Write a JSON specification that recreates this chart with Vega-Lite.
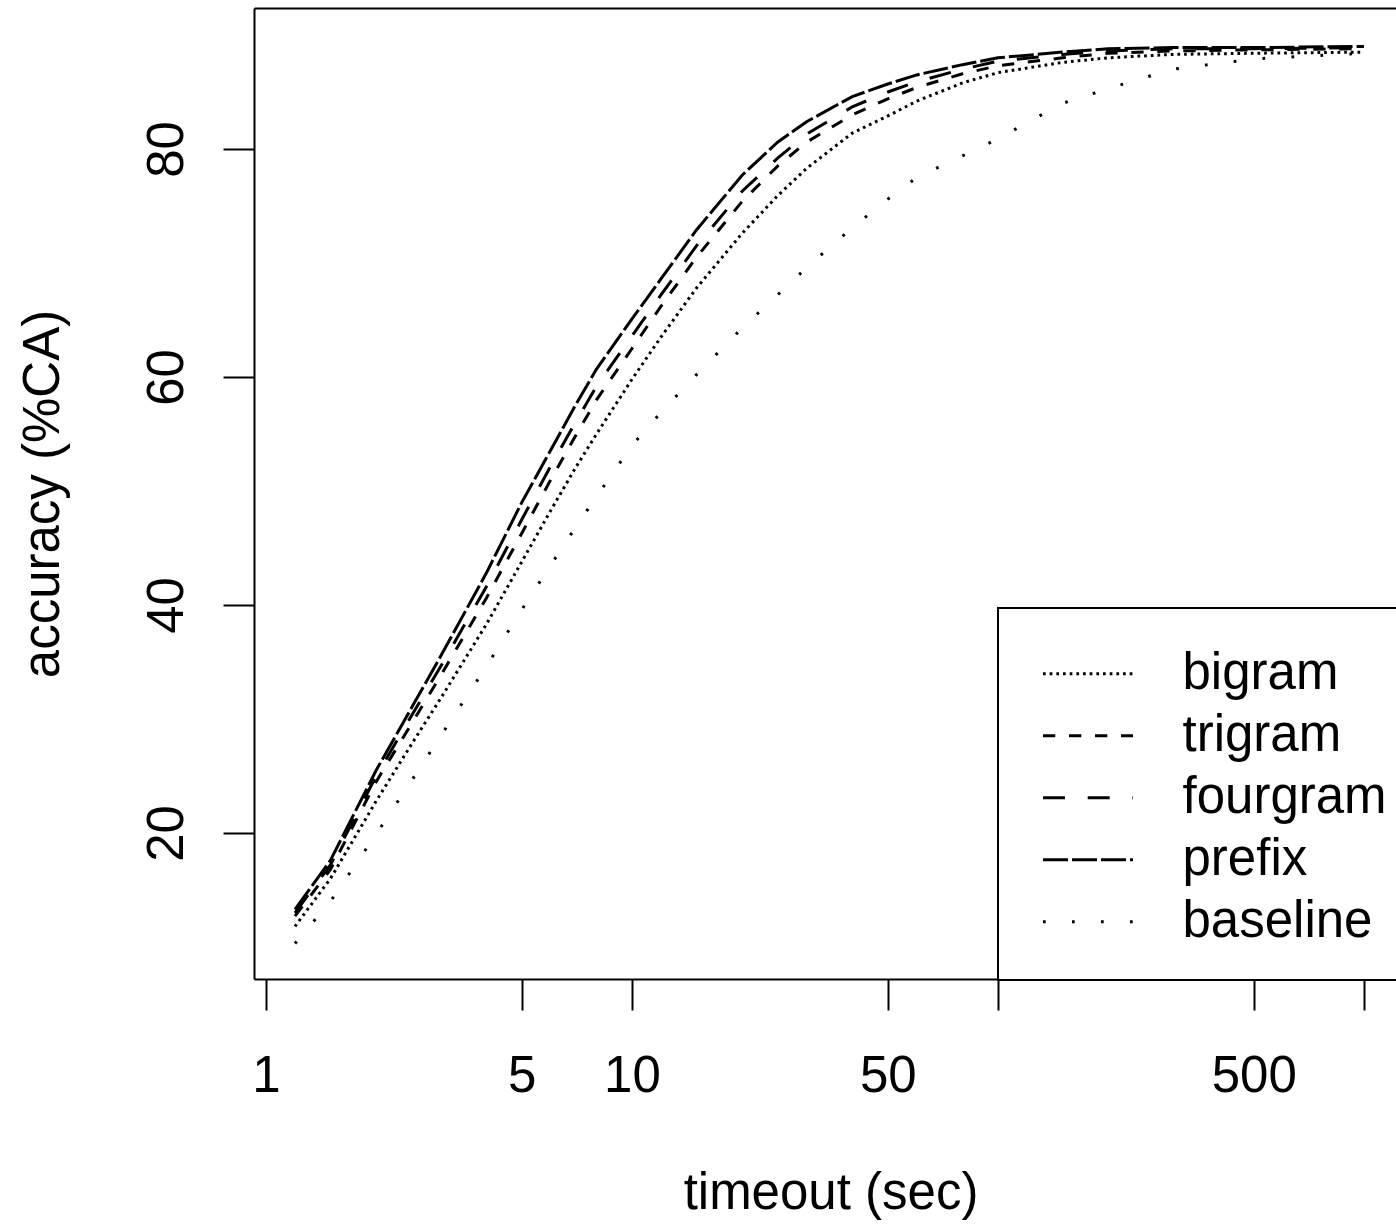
{
  "$schema": "https://vega.github.io/schema/vega-lite/v6.json",
  "width": 1142,
  "height": 971,
  "autosize": {"type": "none"},
  "padding": {"left": 254, "top": 8, "right": 0, "bottom": 248},
  "background": "white",
  "config": {
    "view": {"stroke": null},
    "font": "Liberation Sans",
    "axis": {
      "grid": false,
      "domainColor": "black",
      "domainWidth": 2,
      "tickColor": "black",
      "tickWidth": 2,
      "tickSize": 31,
      "labelFont": "Liberation Sans",
      "labelFontSize": 51,
      "labelColor": "black",
      "labelFlush": false,
      "labelOverlap": false,
      "titleFont": "Liberation Sans",
      "titleFontSize": 51,
      "titleFontWeight": "normal",
      "titleColor": "black"
    },
    "legend": {
      "orient": "none",
      "legendX": 744,
      "legendY": 600,
      "direction": "vertical",
      "strokeColor": "black",
      "strokeWidth": 2,
      "fillColor": "white",
      "padding": 27,
      "symbolType": "stroke",
      "symbolSize": 8100,
      "symbolStrokeWidth": 3,
      "symbolStrokeColor": "black",
      "symbolOffset": 16.5,
      "labelOffset": 48,
      "labelFont": "Liberation Sans",
      "labelFontSize": 51,
      "labelColor": "black",
      "labelLimit": 0,
      "clipHeight": 61.3,
      "rowPadding": 0,
      "titleFontSize": 1,
      "titlePadding": 7
    }
  },
  "data": {
    "values": [
      {"m": "prefix", "t": 1.2, "a": 13.3}, {"m": "prefix", "t": 1.5, "a": 17.6}, {"m": "prefix", "t": 2, "a": 25.5}, {"m": "prefix", "t": 2.5, "a": 31.0}, {"m": "prefix", "t": 3, "a": 35.5}, {"m": "prefix", "t": 4, "a": 42.8}, {"m": "prefix", "t": 5, "a": 49.0}, {"m": "prefix", "t": 6, "a": 53.6}, {"m": "prefix", "t": 7, "a": 57.5}, {"m": "prefix", "t": 8, "a": 60.7}, {"m": "prefix", "t": 10, "a": 65.1}, {"m": "prefix", "t": 12, "a": 68.6}, {"m": "prefix", "t": 15, "a": 72.9}, {"m": "prefix", "t": 20, "a": 77.7}, {"m": "prefix", "t": 25, "a": 80.6}, {"m": "prefix", "t": 30, "a": 82.4}, {"m": "prefix", "t": 40, "a": 84.6}, {"m": "prefix", "t": 50, "a": 85.7}, {"m": "prefix", "t": 60, "a": 86.5}, {"m": "prefix", "t": 80, "a": 87.4}, {"m": "prefix", "t": 100, "a": 88.0}, {"m": "prefix", "t": 150, "a": 88.5}, {"m": "prefix", "t": 200, "a": 88.8}, {"m": "prefix", "t": 300, "a": 88.9}, {"m": "prefix", "t": 500, "a": 88.9}, {"m": "prefix", "t": 1000, "a": 89.0},
      {"m": "fourgram", "t": 1.2, "a": 13.0}, {"m": "fourgram", "t": 1.5, "a": 17.2}, {"m": "fourgram", "t": 2, "a": 25.0}, {"m": "fourgram", "t": 2.5, "a": 30.3}, {"m": "fourgram", "t": 3, "a": 34.6}, {"m": "fourgram", "t": 4, "a": 41.6}, {"m": "fourgram", "t": 5, "a": 47.5}, {"m": "fourgram", "t": 6, "a": 52.2}, {"m": "fourgram", "t": 7, "a": 56.0}, {"m": "fourgram", "t": 8, "a": 59.2}, {"m": "fourgram", "t": 10, "a": 63.6}, {"m": "fourgram", "t": 12, "a": 67.2}, {"m": "fourgram", "t": 15, "a": 71.5}, {"m": "fourgram", "t": 20, "a": 76.3}, {"m": "fourgram", "t": 25, "a": 79.2}, {"m": "fourgram", "t": 30, "a": 81.3}, {"m": "fourgram", "t": 40, "a": 83.7}, {"m": "fourgram", "t": 50, "a": 85.0}, {"m": "fourgram", "t": 60, "a": 85.9}, {"m": "fourgram", "t": 80, "a": 87.0}, {"m": "fourgram", "t": 100, "a": 87.7}, {"m": "fourgram", "t": 150, "a": 88.3}, {"m": "fourgram", "t": 200, "a": 88.6}, {"m": "fourgram", "t": 300, "a": 88.8}, {"m": "fourgram", "t": 500, "a": 88.8}, {"m": "fourgram", "t": 1000, "a": 88.9},
      {"m": "trigram", "t": 1.2, "a": 12.7}, {"m": "trigram", "t": 1.5, "a": 16.8}, {"m": "trigram", "t": 2, "a": 24.5}, {"m": "trigram", "t": 2.5, "a": 29.6}, {"m": "trigram", "t": 3, "a": 33.8}, {"m": "trigram", "t": 4, "a": 40.6}, {"m": "trigram", "t": 5, "a": 46.3}, {"m": "trigram", "t": 6, "a": 51.0}, {"m": "trigram", "t": 7, "a": 54.8}, {"m": "trigram", "t": 8, "a": 58.0}, {"m": "trigram", "t": 10, "a": 62.5}, {"m": "trigram", "t": 12, "a": 66.2}, {"m": "trigram", "t": 15, "a": 70.5}, {"m": "trigram", "t": 20, "a": 75.4}, {"m": "trigram", "t": 25, "a": 78.5}, {"m": "trigram", "t": 30, "a": 80.6}, {"m": "trigram", "t": 40, "a": 83.0}, {"m": "trigram", "t": 50, "a": 84.4}, {"m": "trigram", "t": 60, "a": 85.4}, {"m": "trigram", "t": 80, "a": 86.6}, {"m": "trigram", "t": 100, "a": 87.3}, {"m": "trigram", "t": 150, "a": 88.0}, {"m": "trigram", "t": 200, "a": 88.4}, {"m": "trigram", "t": 300, "a": 88.6}, {"m": "trigram", "t": 500, "a": 88.7}, {"m": "trigram", "t": 1000, "a": 88.8},
      {"m": "bigram", "t": 1.2, "a": 11.8}, {"m": "bigram", "t": 1.5, "a": 16.0}, {"m": "bigram", "t": 2, "a": 22.8}, {"m": "bigram", "t": 2.5, "a": 27.8}, {"m": "bigram", "t": 3, "a": 31.8}, {"m": "bigram", "t": 4, "a": 38.3}, {"m": "bigram", "t": 5, "a": 43.8}, {"m": "bigram", "t": 6, "a": 48.3}, {"m": "bigram", "t": 7, "a": 52.0}, {"m": "bigram", "t": 8, "a": 55.0}, {"m": "bigram", "t": 10, "a": 59.8}, {"m": "bigram", "t": 12, "a": 63.5}, {"m": "bigram", "t": 15, "a": 67.8}, {"m": "bigram", "t": 20, "a": 72.6}, {"m": "bigram", "t": 25, "a": 75.9}, {"m": "bigram", "t": 30, "a": 78.3}, {"m": "bigram", "t": 40, "a": 81.4}, {"m": "bigram", "t": 50, "a": 82.9}, {"m": "bigram", "t": 60, "a": 84.2}, {"m": "bigram", "t": 80, "a": 85.8}, {"m": "bigram", "t": 100, "a": 86.7}, {"m": "bigram", "t": 150, "a": 87.6}, {"m": "bigram", "t": 200, "a": 88.0}, {"m": "bigram", "t": 300, "a": 88.3}, {"m": "bigram", "t": 500, "a": 88.4}, {"m": "bigram", "t": 1000, "a": 88.5},
      {"m": "baseline", "t": 1.2, "a": 10.3}, {"m": "baseline", "t": 1.5, "a": 14.0}, {"m": "baseline", "t": 2, "a": 19.9}, {"m": "baseline", "t": 2.5, "a": 24.6}, {"m": "baseline", "t": 3, "a": 28.5}, {"m": "baseline", "t": 4, "a": 34.6}, {"m": "baseline", "t": 5, "a": 39.6}, {"m": "baseline", "t": 6, "a": 43.5}, {"m": "baseline", "t": 7, "a": 46.8}, {"m": "baseline", "t": 8, "a": 49.5}, {"m": "baseline", "t": 10, "a": 54.0}, {"m": "baseline", "t": 12, "a": 56.9}, {"m": "baseline", "t": 15, "a": 60.2}, {"m": "baseline", "t": 20, "a": 64.3}, {"m": "baseline", "t": 25, "a": 67.2}, {"m": "baseline", "t": 30, "a": 69.6}, {"m": "baseline", "t": 40, "a": 73.1}, {"m": "baseline", "t": 50, "a": 75.6}, {"m": "baseline", "t": 60, "a": 77.5}, {"m": "baseline", "t": 80, "a": 79.4}, {"m": "baseline", "t": 100, "a": 80.9}, {"m": "baseline", "t": 150, "a": 84.0}, {"m": "baseline", "t": 200, "a": 85.3}, {"m": "baseline", "t": 300, "a": 87.0}, {"m": "baseline", "t": 500, "a": 87.9}, {"m": "baseline", "t": 1000, "a": 88.4}
    ]
  },
  "layer": [
    {
      "mark": {"type": "line", "color": "black", "strokeWidth": 3},
      "encoding": {
        "x": {
          "field": "t",
          "type": "quantitative",
          "scale": {"type": "log", "domain": [0.9273, 1223.4], "nice": false},
          "axis": {
            "orient": "bottom",
            "values": [1, 5, 10, 50, 100, 500, 1000],
            "labelExpr": "datum.value == 100 || datum.value == 1000 ? '' : format(datum.value, 'd')",
            "labelBaseline": "alphabetic",
            "labelAlign": "center",
            "labelPadding": 81,
            "title": "timeout (sec)",
            "titleX": 576.5,
            "titleY": 229,
            "titleAlign": "center",
            "titleBaseline": "alphabetic"
          }
        },
        "y": {
          "field": "a",
          "type": "quantitative",
          "scale": {"domain": [7.19, 92.37], "nice": false, "zero": false},
          "axis": {
            "values": [20, 40, 60, 80],
            "labelAngle": -90,
            "labelAlign": "center",
            "labelBaseline": "alphabetic",
            "labelPadding": 41,
            "title": "accuracy (%CA)",
            "titleAngle": -90,
            "titleX": -196,
            "titleY": 485.5,
            "titleAlign": "center",
            "titleBaseline": "alphabetic"
          }
        },
        "strokeDash": {
          "field": "m",
          "type": "nominal",
          "scale": {
            "domain": ["bigram", "trigram", "fourgram", "prefix", "baseline"],
            "range": [[2.7, 3.97], [12.3, 13.7], [22, 22.7], [25, 4], [2.7, 26.3]]
          },
          "legend": {"title": " "}
        }
      }
    },
    {
      "mark": {"type": "rule", "opacity": 0},
      "encoding": {
        "x": {
          "field": "t",
          "type": "quantitative",
          "axis": {"orient": "top", "labels": false, "ticks": false, "title": null, "values": []}
        }
      }
    }
  ],
  "resolve": {"axis": {"x": "independent"}}
}
